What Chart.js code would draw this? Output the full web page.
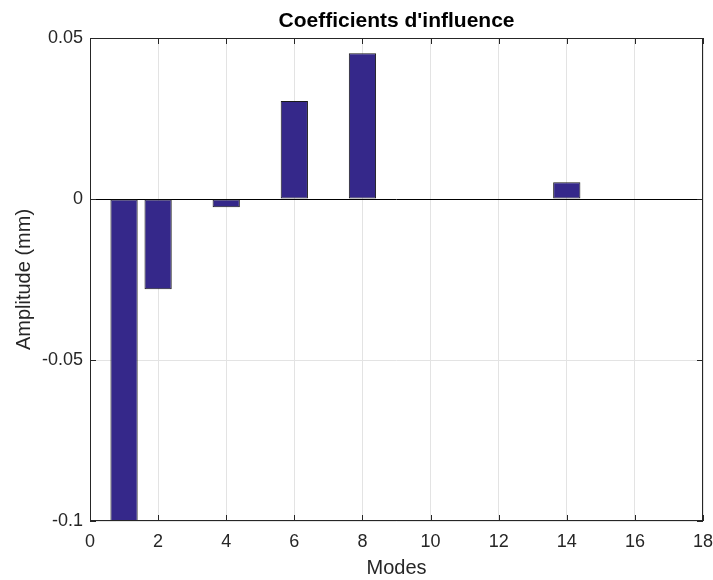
<!DOCTYPE html>
<html>
<head>
<meta charset="utf-8">
<script src="https://cdn.jsdelivr.net/npm/chart.js@4"></script>
<style>
  body { margin: 0; background: #fff; }
  #wrap { width: 713px; height: 580px; position: relative; }
</style>
</head>
<body>
<div id="wrap"><canvas id="coefChart"></canvas></div>
<script>
// Data
const modes = [1, 2, 3, 4, 5, 6, 7, 8, 9, 10, 11, 12, 13, 14, 15, 16];
const amplitudes = [-0.1, -0.028, 0, -0.0026, 0, 0.0304, 0, 0.0453, 0, 0, 0, 0, 0, 0.0052, 0, 0];
const xTicks = [0, 2, 4, 6, 8, 10, 12, 14, 16, 18];
const yTicks = [-0.1, -0.05, 0, 0.05];
const yTickLabels = ['-0.1', '-0.05', '0', '0.05'];
const chartTitle = "Coefficients d'influence";

const axisColor = '#262626';
const fontFamily = '"Liberation Sans", Arial, Helvetica, sans-serif';

// MATLAB-like box with inward ticks on all four sides, title centred over the axes
const boxPlugin = {
    id: 'matlabBox',
    afterDraw(chart) {
        const ctx = chart.ctx;
        const { left, right, top, bottom } = chart.chartArea;
        const x = chart.scales.x, y = chart.scales.y;
        const len = 6;
        ctx.save();
        ctx.strokeStyle = axisColor;
        ctx.lineWidth = 1;
        ctx.strokeRect(Math.round(left) + 0.5, Math.round(top) + 0.5,
            Math.round(right - left) - 1, Math.round(bottom - top) - 1);
        ctx.beginPath();
        xTicks.forEach(function(v) {
            const px = Math.round(x.getPixelForValue(v)) + 0.5;
            ctx.moveTo(px, bottom); ctx.lineTo(px, bottom - len);
            ctx.moveTo(px, top); ctx.lineTo(px, top + len);
        });
        yTicks.forEach(function(v) {
            const py = Math.round(y.getPixelForValue(v)) + 0.5;
            ctx.moveTo(left, py); ctx.lineTo(left + len, py);
            ctx.moveTo(right, py); ctx.lineTo(right - len, py);
        });
        ctx.stroke();

        ctx.fillStyle = '#000';
        ctx.font = 'bold 21px ' + fontFamily;
        ctx.textAlign = 'center';
        ctx.textBaseline = 'alphabetic';
        ctx.fillText(chartTitle, (left + right) / 2, 27);
        ctx.restore();
    }
};

new Chart(document.getElementById('coefChart'), {
    type: 'bar',
    data: {
        datasets: [{
            data: modes.map(function(m, i) { return { x: m, y: amplitudes[i] }; }),
            backgroundColor: '#35288a',
            borderColor: '#1a1a1a',
            borderWidth: 1,
            borderSkipped: false,
            barPercentage: 0.8,
            categoryPercentage: 1.0
        }]
    },
    options: {
        responsive: true,
        maintainAspectRatio: false,
        animation: false,
        layout: { padding: { left: 0, right: 0, top: 38, bottom: 0 } },
        plugins: {
            legend: { display: false },
            tooltip: { enabled: false },
            title: { display: false }
        },
        scales: {
            x: {
                type: 'linear',
                min: 0,
                max: 18,
                offset: false,
                afterFit: function(scale) {
                    scale.height = 59;
                    scale.paddingRight = 10;
                },
                afterBuildTicks: function(scale) {
                    scale.ticks = xTicks.map(function(v) { return { value: v }; });
                },
                grid: { offset: false, color: '#e3e3e3', drawTicks: false },
                border: { display: false },
                ticks: {
                    color: axisColor,
                    padding: 10,
                    maxRotation: 0,
                    font: { family: fontFamily, size: 18 },
                    callback: function(v) { return String(v); }
                },
                title: {
                    display: true,
                    text: 'Modes',
                    color: axisColor,
                    font: { family: fontFamily, size: 20 },
                    padding: { top: 0, bottom: 0 }
                }
            },
            y: {
                min: -0.1,
                max: 0.05,
                afterFit: function(scale) {
                    scale.width = 90;
                    scale.paddingTop = 0;
                },
                afterBuildTicks: function(scale) {
                    scale.ticks = yTicks.map(function(v) { return { value: v }; });
                },
                grid: {
                    drawTicks: false,
                    color: function(ctx) {
                        return ctx.tick && ctx.tick.value === 0 ? '#000000' : '#e3e3e3';
                    }
                },
                border: { display: false },
                ticks: {
                    color: axisColor,
                    padding: 7,
                    font: { family: fontFamily, size: 18 },
                    callback: function(v) {
                        const i = yTicks.indexOf(v);
                        return i >= 0 ? yTickLabels[i] : '';
                    }
                },
                title: {
                    display: true,
                    text: 'Amplitude (mm)',
                    color: axisColor,
                    font: { family: fontFamily, size: 20 },
                    padding: { top: 12, bottom: 0 }
                }
            }
        }
    },
    plugins: [boxPlugin]
});
</script>
</body>
</html>
